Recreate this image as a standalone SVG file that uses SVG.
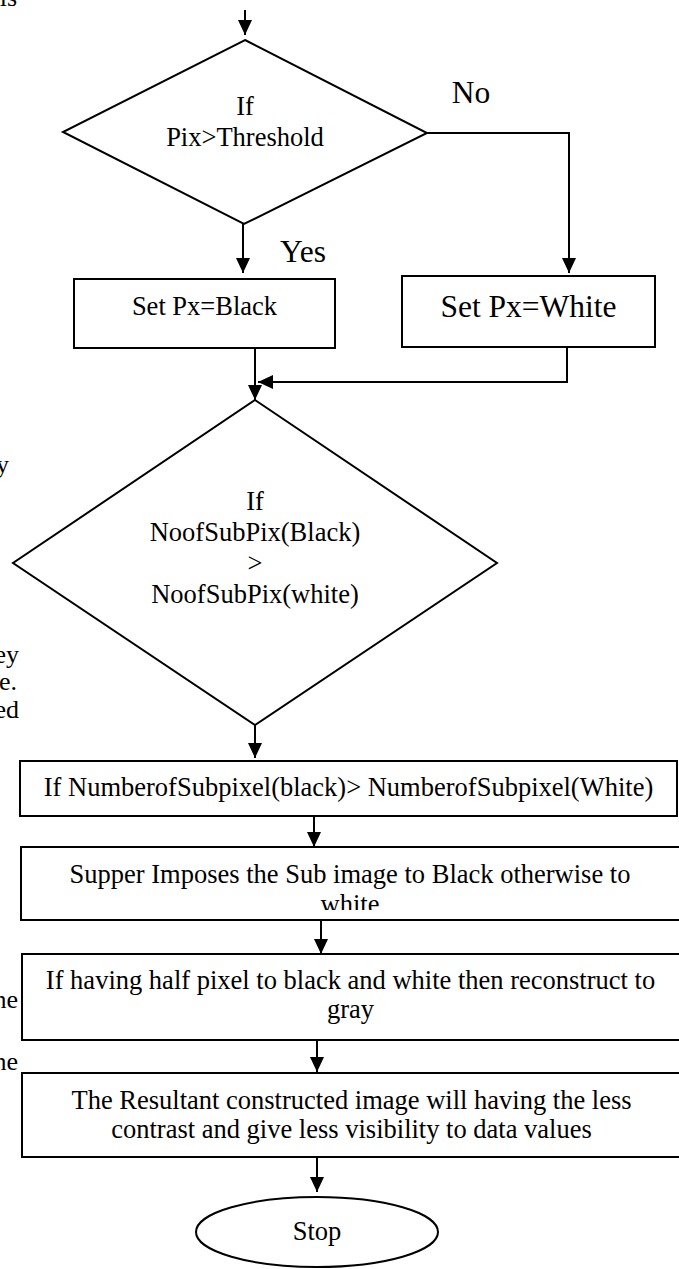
<svg xmlns="http://www.w3.org/2000/svg" width="679" height="1269" viewBox="0 0 679 1269">
<style>
text{font-family:"Liberation Serif","Times New Roman",serif;fill:#000}
.t{font-size:26.5px;text-anchor:middle}
.big{font-size:31.5px;text-anchor:middle}
.frag{font-size:26px;text-anchor:end}
.shape{fill:#fff;stroke:#000;stroke-width:2}
.con{fill:none;stroke:#000;stroke-width:2}
</style>
<defs>
<marker id="ah" viewBox="0 0 15 14" markerWidth="15" markerHeight="14" refX="15" refY="7" orient="auto" markerUnits="userSpaceOnUse">
<path d="M0,0 L15,7 L0,14 z" fill="#000"/>
</marker>
<clipPath id="clip4"><rect x="0" y="847" width="679" height="63"/></clipPath>
</defs>
<rect width="679" height="1269" fill="#fff"/>
<g id="fragments">
<text class="frag" x="17" y="6">is</text>
<text class="frag" x="9" y="473">y</text>
<text class="frag" x="19" y="663">ey</text>
<text class="frag" x="17" y="690">e.</text>
<text class="frag" x="19" y="718">ed</text>
<text class="frag" x="18" y="1008">he</text>
<text class="frag" x="18" y="1070">he</text>
</g>
<g id="connectors">
<line class="con" x1="245" y1="10" x2="245" y2="35" marker-end="url(#ah)"/>
<line class="con" x1="243" y1="224" x2="243" y2="273" marker-end="url(#ah)"/>
<polyline class="con" points="427,133 569,133 569,273" marker-end="url(#ah)"/>
<line class="con" x1="255" y1="348" x2="255" y2="400" marker-end="url(#ah)"/>
<polyline class="con" points="567,347 567,382 258,382" marker-end="url(#ah)"/>
<line class="con" x1="255" y1="725" x2="255" y2="758" marker-end="url(#ah)"/>
<line class="con" x1="314" y1="816" x2="314" y2="847" marker-end="url(#ah)"/>
<line class="con" x1="321" y1="920" x2="321" y2="954" marker-end="url(#ah)"/>
<line class="con" x1="317" y1="1040" x2="317" y2="1072" marker-end="url(#ah)"/>
<line class="con" x1="317" y1="1157" x2="317" y2="1192" marker-end="url(#ah)"/>
</g>
<g id="labels">
<text class="big" x="471" y="103">No</text>
<text class="big" x="303" y="262">Yes</text>
</g>
<g id="decision1">
<polygon class="shape" points="245,40 427,133 244,224 63,132"/>
<text class="t" x="245" y="115">If</text>
<text class="t" x="245" y="146">Pix&gt;Threshold</text>
</g>
<g id="setBlack">
<rect class="shape" x="74" y="279" width="261" height="69"/>
<text class="t" x="204.5" y="315">Set Px=Black</text>
</g>
<g id="setWhite">
<rect class="shape" x="402" y="276" width="253" height="71"/>
<text class="big" x="528.5" y="317">Set Px=White</text>
</g>
<g id="decision2">
<polygon class="shape" points="255,400 497,563 255,725 13,563"/>
<text class="t" x="255" y="510">If</text>
<text class="t" x="255" y="541">NoofSubPix(Black)</text>
<text class="t" x="255" y="572">&gt;</text>
<text class="t" x="255" y="603">NoofSubPix(white)</text>
</g>
<g id="compare">
<rect class="shape" x="20" y="761" width="657" height="55"/>
<text class="t" x="348.5" y="796">If NumberofSubpixel(black)&gt; NumberofSubpixel(White)</text>
</g>
<g id="superimpose">
<rect class="shape" x="21" y="847" width="662" height="73"/>
<text class="t" x="350" y="883">Supper Imposes the Sub image to Black otherwise to</text>
<text class="t" x="350" y="913" clip-path="url(#clip4)">white</text>
</g>
<g id="halfpixel">
<rect class="shape" x="22" y="954" width="662" height="86"/>
<text class="t" x="350.5" y="989">If having half pixel to black and white then reconstruct to</text>
<text class="t" x="350.5" y="1018">gray</text>
</g>
<g id="result">
<rect class="shape" x="22" y="1073" width="662" height="84"/>
<text class="t" x="351.5" y="1109">The Resultant constructed image will having the less</text>
<text class="t" x="351.5" y="1138">contrast and give less visibility to data values</text>
</g>
<g id="stop">
<ellipse class="shape" cx="317" cy="1232" rx="121" ry="35"/>
<text class="t" x="317" y="1240">Stop</text>
</g>
</svg>
